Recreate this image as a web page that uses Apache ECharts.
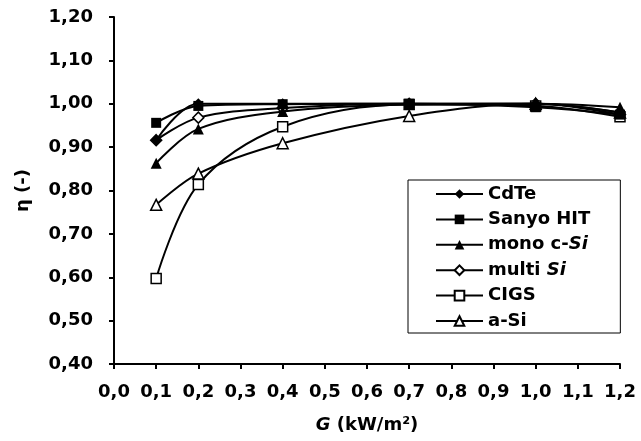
<!DOCTYPE html>
<html><head><meta charset="utf-8">
<script src="https://cdn.jsdelivr.net/npm/echarts@6/dist/echarts.min.js"></script>
<style>html,body{margin:0;padding:0;background:#fff}#c{width:641px;height:441px}</style>
</head><body><div id="c"></div>
<script>
var gValues = [0.1, 0.2, 0.4, 0.7, 1.0, 1.2];
var cdte     = [0.916, 1.000, 1.000, 1.000, 1.000, 0.980];
var sanyo    = [0.956, 0.995, 0.999, 1.000, 0.992, 0.975];
var monoSi   = [0.863, 0.942, 0.982, 0.998, 1.000, 0.992];
var multiSi  = [0.916, 0.968, 0.990, 1.000, 1.000, 0.975];
var cigs     = [0.597, 0.814, 0.947, 0.998, 0.995, 0.970];
var aSi      = [0.767, 0.839, 0.909, 0.972, 1.000, 0.980];
var seriesNames = ['CdTe', 'Sanyo HIT', 'mono c-Si', 'multi Si', 'CIGS', 'a-Si'];

function pairs(ys){ return gValues.map(function(x,i){ return [x, ys[i]]; }); }
var font = '"DejaVu Sans", sans-serif';
function mk(name, ys, symbol, filled, size, z){
  return {
    name: name, type: 'line', smooth: 0.35, data: pairs(ys), z: z,
    symbol: symbol, symbolSize: size,
    lineStyle: {color: '#000', width: 2},
    itemStyle: {color: filled ? '#000' : '#fff', borderColor: '#000', borderWidth: filled ? 0 : 1.5},
    emphasis: {disabled: true}
  };
}
var chart = echarts.init(document.getElementById('c'));
chart.setOption({
  animation: false,
  backgroundColor: '#fff',
  grid: {left: 114, right: 21, top: 17, bottom: 77, containLabel: false},
  xAxis: {
    type: 'value', min: 0, max: 1.2, interval: 0.1,
    axisLine: {lineStyle: {color: '#000', width: 2}},
    axisTick: {show: true, length: 5, lineStyle: {color: '#000', width: 2}},
    splitLine: {show: false},
    axisLabel: {color: '#000', fontFamily: font, fontWeight: 'bold', fontSize: 18, margin: 19,
      formatter: function(v){ return v.toFixed(1).replace('.', ','); }},
    name: '{g|G} (kW/m²)', nameLocation: 'middle', nameGap: 52,
    nameTextStyle: {color: '#000', fontFamily: font, fontWeight: 'bold', fontSize: 18,
      rich: {g: {fontStyle: 'italic', fontWeight: 'bold', fontFamily: font, fontSize: 18, color: '#000'}}}
  },
  yAxis: {
    type: 'value', min: 0.4, max: 1.2, interval: 0.1,
    axisLine: {show: true, lineStyle: {color: '#000', width: 2}},
    axisTick: {show: true, length: 5, lineStyle: {color: '#000', width: 2}},
    splitLine: {show: false},
    axisLabel: {color: '#000', fontFamily: font, fontWeight: 'bold', fontSize: 18, margin: 21,
      formatter: function(v){ return v.toFixed(2).replace('.', ','); }},
    name: 'η (-)', nameLocation: 'middle', nameGap: 82,
    nameTextStyle: {color: '#000', fontFamily: font, fontWeight: 'bold', fontSize: 18}
  },
  legend: {
    orient: 'vertical', left: 408, top: 180,
    borderColor: '#000', borderWidth: 1, padding: [5, 30, 3, 27],
    itemWidth: 47, itemHeight: 12, itemGap: 7.4,
    data: seriesNames,
    formatter: function(n){
      if (n === 'mono c-Si') return 'mono c-{i|Si}';
      if (n === 'multi Si') return 'multi {i|Si}';
      return n;
    },
    textStyle: {color: '#000', fontFamily: font, fontWeight: 'bold', fontSize: 18, lineHeight: 18,
      rich: {i: {fontStyle: 'italic', fontWeight: 'bold', fontFamily: font, fontSize: 18, lineHeight: 18, color: '#000'}}}
  },
  series: [
    mk('CdTe', cdte, 'diamond', true, 11, 4),
    mk('Sanyo HIT', sanyo, 'rect', true, 10, 3),
    mk('mono c-Si', monoSi, 'triangle', true, 11, 3),
    mk('multi Si', multiSi, 'diamond', false, 11, 2),
    mk('CIGS', cigs, 'rect', false, 10, 2),
    mk('a-Si', aSi, 'triangle', false, 11, 2)
  ]
});
</script></body></html>
